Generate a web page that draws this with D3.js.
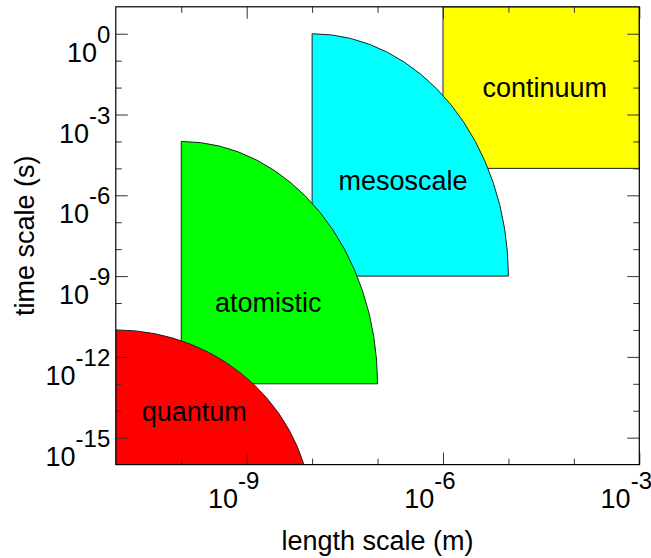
<!DOCTYPE html>
<html>
<head>
<meta charset="utf-8">
<script src="https://cdn.jsdelivr.net/npm/d3@7"></script>
<style>
  html, body { margin: 0; padding: 0; background: #fff; }
  svg { display: block; font-family: "Liberation Sans", Arial, Helvetica, sans-serif; }
</style>
</head>
<body>
<svg id="chart" width="651" height="558"></svg>
<script>
// Regimes of simulation: each spans a range of length (m) and time (s), in decades.
const regionNames   = ["continuum", "mesoscale", "atomistic", "quantum"];
const regionColors  = ["#ffff00", "#00ffff", "#00ff00", "#ff0000"];
const regionShapes  = ["rect", "quarter", "quarter", "quarter"];
const lengthMinExp  = [-6, -8, -10, -11];
const lengthMaxExp  = [-3, -5, -7, -8];
const timeMinExp    = [-5, -9, -13, -18];
const timeMaxExp    = [1, 0, -4, -11];
// where each regime's name sits (decades)
const labelLengthExp = [-4.445, -6.61, -8.67, -9.80];
const labelTimeExp   = [-2.09, -5.54, -10.07, -14.11];

// axis ticks (exponents of ten)
const xMajorExp = [-9, -6, -3];
const xMinorExp = [-10, -8, -7, -5, -4];
const yMajorExp = [0, -3, -6, -9, -12, -15];
const yMinorExp = [-1, -2, -4, -5, -7, -8, -10, -11, -13, -14];

const xTitle = "length scale (m)";
const yTitle = "time scale (s)";

const plotLeft = 115.8, plotRight = 639.3, plotTop = 6.8, plotBottom = 464.6;

const svg = d3.select("#chart");

const x = d3.scaleLog().domain([1e-11, 1e-3]).range([plotLeft, plotRight]);
const y = d3.scaleLog().domain([1e-16, 1e1]).range([plotBottom, plotTop]);
const p10 = e => Math.pow(10, e);

svg.append("defs").append("clipPath").attr("id", "plotClip")
  .append("rect").attr("x", plotLeft).attr("y", plotTop)
  .attr("width", plotRight - plotLeft).attr("height", plotBottom - plotTop);

const regions = regionNames.map((name, i) => ({
  name, color: regionColors[i], shape: regionShapes[i],
  x0: p10(lengthMinExp[i]), x1: p10(lengthMaxExp[i]),
  y0: p10(timeMinExp[i]), y1: p10(timeMaxExp[i]),
  lx: p10(labelLengthExp[i]), ly: p10(labelTimeExp[i])
}));

function regionPath(r) {
  const xl = x(r.x0), xr = x(r.x1), yb = y(r.y0), yt = y(r.y1);
  if (r.shape === "rect") {
    return `M${xl},${yb}L${xr},${yb}L${xr},${yt}L${xl},${yt}Z`;
  }
  // quarter ellipse anchored at the lower-left corner
  const rx = xr - xl, ry = yb - yt;
  return `M${xl},${yb}L${xr},${yb}A${rx},${ry} 0 0 0 ${xl},${yt}Z`;
}

const plot = svg.append("g").attr("clip-path", "url(#plotClip)");
plot.selectAll("path.region").data(regions).join("path")
  .attr("class", "region")
  .attr("d", regionPath)
  .attr("fill", d => d.color)
  .attr("stroke", "#222")
  .attr("stroke-width", 1);

// tick marks on all four sides, pointing inward
function ticks(axisGen, values, size, transform) {
  const g = svg.append("g").attr("transform", transform)
    .call(axisGen.tickValues(values.map(p10)).tickSize(size).tickFormat(""));
  g.select(".domain").remove();
  g.selectAll(".tick line").attr("stroke", "#333").attr("stroke-width", 1);
  return g;
}
ticks(d3.axisBottom(x), xMajorExp, -12, `translate(0,${plotBottom})`);
ticks(d3.axisBottom(x), xMinorExp, -6, `translate(0,${plotBottom})`);
ticks(d3.axisTop(x), xMajorExp, -12, `translate(0,${plotTop})`);
ticks(d3.axisTop(x), xMinorExp, -6, `translate(0,${plotTop})`);
ticks(d3.axisLeft(y), yMajorExp, -12, `translate(${plotLeft},0)`);
ticks(d3.axisLeft(y), yMinorExp, -6, `translate(${plotLeft},0)`);
ticks(d3.axisRight(y), yMajorExp, -12, `translate(${plotRight},0)`);
ticks(d3.axisRight(y), yMinorExp, -6, `translate(${plotRight},0)`);

// frame
svg.append("rect")
  .attr("x", plotLeft).attr("y", plotTop)
  .attr("width", plotRight - plotLeft).attr("height", plotBottom - plotTop)
  .attr("fill", "none").attr("stroke", "#000").attr("stroke-width", 1.2);

// power-of-ten tick labels
function powerLabel(sel, exp) {
  sel.append("tspan").text("10");
  sel.append("tspan").attr("dy", -19).attr("font-size", 24).text(String(exp));
}
svg.append("g").selectAll("text").data(xMajorExp).join("text")
  .attr("x", d => x(p10(d)) - 13)
  .attr("y", plotBottom + 43)
  .attr("text-anchor", "middle")
  .attr("font-size", 27)
  .attr("fill", "#000")
  .each(function (d) { powerLabel(d3.select(this), d); });

svg.append("g").selectAll("text").data(yMajorExp).join("text")
  .attr("x", plotLeft - 5.5)
  .attr("y", d => y(p10(d)) + 28)
  .attr("text-anchor", "end")
  .attr("font-size", 27)
  .attr("fill", "#000")
  .each(function (d) { powerLabel(d3.select(this), d); });

// regime names
svg.append("g").selectAll("text").data(regions).join("text")
  .attr("x", d => x(d.lx))
  .attr("y", d => y(d.ly))
  .attr("dy", "0.26em")
  .attr("text-anchor", "middle")
  .attr("font-size", 27)
  .attr("fill", "#000")
  .text(d => d.name);

// axis titles
svg.append("text")
  .attr("x", (plotLeft + plotRight) / 2).attr("y", 550)
  .attr("text-anchor", "middle").attr("font-size", 27).attr("fill", "#000")
  .text(xTitle);

svg.append("text")
  .attr("transform", `translate(33.5,${(plotTop + plotBottom) / 2}) rotate(-90)`)
  .attr("text-anchor", "middle").attr("font-size", 27).attr("fill", "#000")
  .text(yTitle);
</script>
</body>
</html>
